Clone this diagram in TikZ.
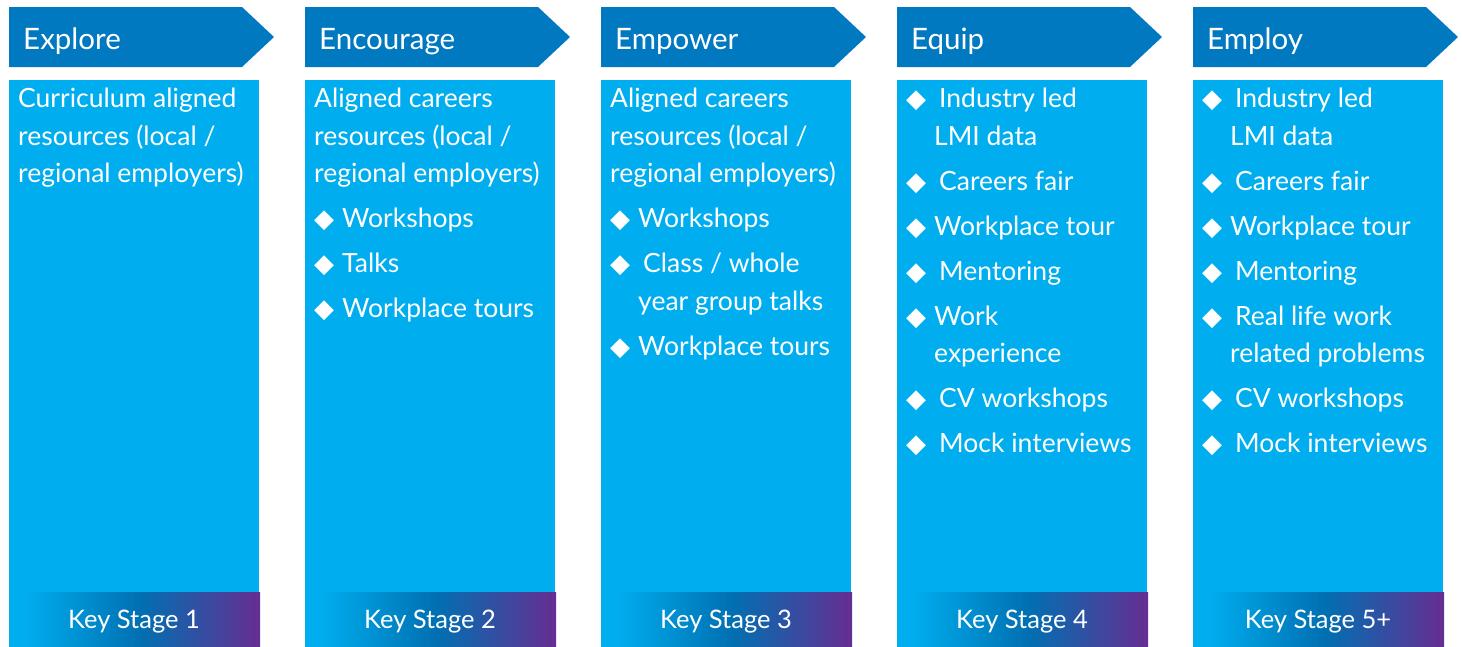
\documentclass[tikz,border=0pt]{standalone}
\usepackage{fontspec}
\setmainfont{Lato}
\newfontfamily\symfont{DejaVu Sans}
\definecolor{headblue}{HTML}{0079C1}
\definecolor{bodycyan}{HTML}{00AEEF}
\definecolor{footblue}{HTML}{0070B2}
\definecolor{footpurple}{HTML}{662D91}
\pgfdeclarehorizontalshading{keystage}{100bp}{color(0bp)=(bodycyan); color(28bp)=(bodycyan); color(51bp)=(footblue); color(75bp)=(footpurple); color(100bp)=(footpurple)}
\newcommand{\bul}{\makebox[28pt][l]{\symfont\fontsize{26}{26}\selectfont ◆}}
\newcommand{\cont}{\hspace*{28pt}}

\begin{document}
\begin{tikzpicture}[x=1pt, y=-1pt,
  headtext/.style={text=white, font=\fontsize{29.5}{32}\selectfont, anchor=base west, inner sep=0pt},
  bodytext/.style={text=white, font=\fontsize{26.5}{37.5}\selectfont, align=left, anchor=north west, inner sep=0pt},
  foottext/.style={text=white, font=\fontsize{25.5}{30}\selectfont, inner sep=0pt}]
  \useasboundingbox (0,0) rectangle (1462,646);

  \foreach \i/\x/\title/\ks in {1/9/Explore/1, 2/305/Encourage/2, 3/601/Empower/3, 4/897/Equip/4, 5/1193/Employ/5+}{
    \fill[headblue] (\x,7) -- ++(233,0) -- ++(32,30) -- ++(-32,30) -- ++(-233,0) -- cycle; % strzalka
    \node[headtext] (head\i) at (\x+14,49) {\title};
    \fill[bodycyan] (\x,80) rectangle ++(250,566); % kolumna
    \shade[shading=keystage] (\x,592) rectangle ++(251,54); % stopka
    \node[foottext] (ks\i) at (\x+125,622) {Key Stage \ks};
  }

  \node[bodytext] (txt1) at (18,88) {Curriculum aligned\\resources (local /\\regional employers)};
  \node[bodytext] (txt2) at (314,88) {Aligned careers\\resources (local /\\regional employers)\\[7.5pt]
    \bul Workshops\\[7.5pt]\bul Talks\\[7.5pt]\bul Workplace tours};
  \node[bodytext] (txt3) at (610,88) {Aligned careers\\resources (local /\\regional employers)\\[7.5pt]
    \bul Workshops\\[7.5pt]\bul\hspace{5pt}Class / whole\\\cont year group talks\\[7.5pt]\bul Workplace tours};
  \node[bodytext] (txt4) at (906,88) {\bul\hspace{5pt}Industry led\\\cont LMI data\\[7.5pt]
    \bul\hspace{5pt}Careers fair\\[7.5pt]\bul Workplace tour\\[7.5pt]\bul\hspace{5pt}Mentoring\\[7.5pt]
    \bul Work\\\cont experience\\[7.5pt]\bul\hspace{5pt}CV workshops\\[7.5pt]\bul\hspace{5pt}Mock interviews};
  \node[bodytext] (txt5) at (1202,88) {\bul\hspace{5pt}Industry led\\\cont LMI data\\[7.5pt]
    \bul\hspace{5pt}Careers fair\\[7.5pt]\bul Workplace tour\\[7.5pt]\bul\hspace{5pt}Mentoring\\[7.5pt]
    \bul\hspace{5pt}Real life work\\\cont related problems\\[7.5pt]\bul\hspace{5pt}CV workshops\\[7.5pt]\bul\hspace{5pt}Mock interviews};
\end{tikzpicture}
\end{document}
